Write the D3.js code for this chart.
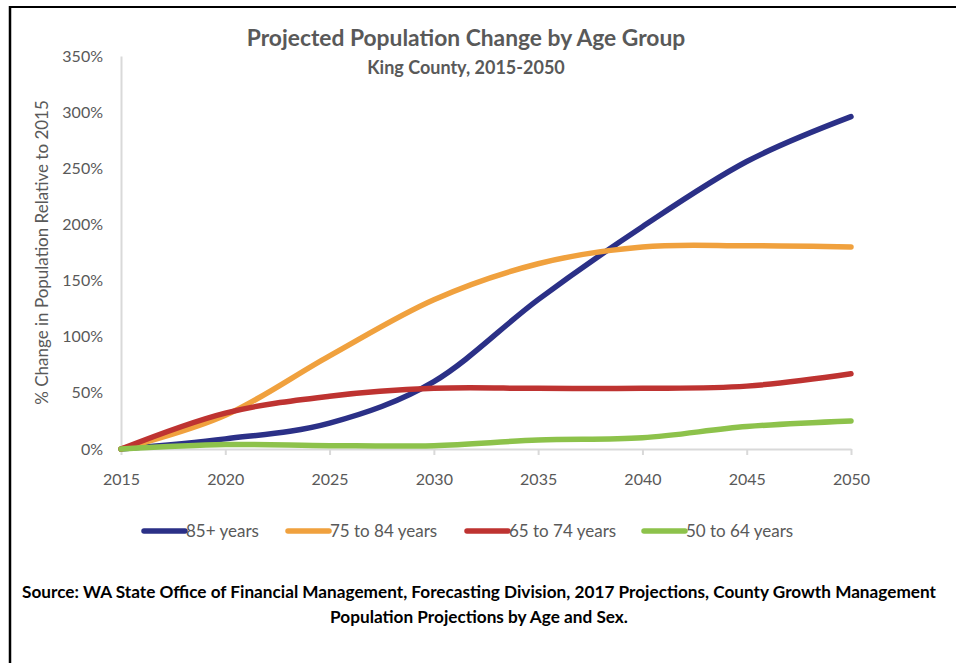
<!DOCTYPE html>
<html>
<head>
<meta charset="utf-8">
<script src="https://cdn.jsdelivr.net/npm/d3@7/dist/d3.min.js"></script>
<style>
  html, body { margin: 0; padding: 0; background: #fff; }
  svg { display: block; font-family: Lato, "Open Sans", sans-serif; }
</style>
</head>
<body>
<svg id="chart" width="956" height="663"></svg>
<script>
// Projection years and percent change relative to 2015, per age group
const years = [2015, 2020, 2025, 2030, 2035, 2040, 2045, 2050];
const age85plus = [0, 9, 23, 60, 133, 198, 256, 296];
const age75to84 = [0, 30, 83, 133, 165, 180, 181, 180];
const age65to74 = [0, 32, 47, 54, 54, 54, 56, 67];
const age50to64 = [0, 4, 3, 3, 8, 10, 20, 25];
const seriesNames = ["85+ years", "75 to 84 years", "65 to 74 years", "50 to 64 years"];
const seriesColors = ["#2B3087", "#F0A13E", "#BE3331", "#8DC24B"];
const yTicks = [0, 50, 100, 150, 200, 250, 300, 350];

const seriesValues = [age85plus, age75to84, age65to74, age50to64];

const svg = d3.select("#chart");
const grey = "#595959";

// Outer frame (top and left edges)
svg.append("line").attr("x1", 10).attr("y1", 7).attr("x2", 956).attr("y2", 7)
  .attr("stroke", "#000").attr("stroke-width", 2);
svg.append("line").attr("x1", 10).attr("y1", 6).attr("x2", 10).attr("y2", 663)
  .attr("stroke", "#000").attr("stroke-width", 2.5);

const plot = { left: 121, right: 851, top: 56, bottom: 449 };

const x = d3.scaleLinear().domain([2015, 2050]).range([plot.left, plot.right]);
const y = d3.scaleLinear().domain([0, 350]).range([plot.bottom, plot.top]);

// Titles
svg.append("text").attr("x", 466).attr("y", 46).attr("text-anchor", "middle")
  .attr("font-size", 22.8).attr("font-weight", "bold").attr("fill", grey)
  .text("Projected Population Change by Age Group");
svg.append("text").attr("x", 466).attr("y", 74).attr("text-anchor", "middle")
  .attr("font-size", 18).attr("font-weight", "bold").attr("fill", grey)
  .text("King County, 2015-2050");

// Y axis: line plus labels, no tick marks
const yAxis = svg.append("g").attr("transform", `translate(${plot.left},0)`)
  .call(d3.axisLeft(y).tickValues(yTicks).tickSize(0).tickPadding(18)
    .tickFormat(d => d + "%"));
yAxis.select(".domain").attr("stroke", "#d9d9d9").attr("stroke-width", 2);
yAxis.selectAll("text").attr("font-size", 16).attr("fill", grey)
  .attr("font-family", "Lato, 'Open Sans', sans-serif");

// X axis with downward ticks
const xAxis = svg.append("g").attr("transform", `translate(0,${plot.bottom})`)
  .call(d3.axisBottom(x).tickValues(years).tickSize(6).tickSizeOuter(0).tickPadding(19)
    .tickFormat(d3.format("d")));
xAxis.select(".domain").attr("stroke", "#d9d9d9").attr("stroke-width", 2);
xAxis.selectAll(".tick line").attr("stroke", "#d9d9d9").attr("stroke-width", 2);
xAxis.selectAll("text").attr("font-size", 16).attr("fill", grey)
  .attr("font-family", "Lato, 'Open Sans', sans-serif");

// Y axis title
svg.append("text")
  .attr("transform", `translate(48,${(plot.top + plot.bottom) / 2}) rotate(-90)`)
  .attr("text-anchor", "middle").attr("font-size", 17).attr("fill", grey)
  .text("% Change in Population Relative to 2015");

// Smoothed series lines
const line = d3.line()
  .x((d, i) => x(years[i]))
  .y(d => y(d))
  .curve(d3.curveCardinal.tension(0));

svg.append("g").selectAll("path").data(seriesValues).join("path")
  .attr("d", d => line(d))
  .attr("fill", "none")
  .attr("stroke", (d, i) => seriesColors[i])
  .attr("stroke-width", 5.5)
  .attr("stroke-linecap", "round")
  .attr("stroke-linejoin", "round");

// Legend
const legendX = [144, 288, 467, 644];
const legend = svg.append("g").selectAll("g").data(seriesNames).join("g")
  .attr("transform", (d, i) => `translate(${legendX[i]},531)`);
legend.append("line").attr("x1", 0).attr("x2", 41).attr("y1", 0).attr("y2", 0)
  .attr("stroke", (d, i) => seriesColors[i]).attr("stroke-width", 5.5)
  .attr("stroke-linecap", "round");
legend.append("text").attr("x", 42).attr("y", 6).attr("font-size", 17)
  .attr("fill", grey).text(d => d);

// Source note
const source = svg.append("g").attr("font-size", 17.2).attr("font-weight", "bold")
  .attr("fill", "#000").attr("text-anchor", "middle");
source.append("text").attr("x", 479).attr("y", 598)
  .text("Source: WA State Office of Financial Management, Forecasting Division, 2017 Projections, County Growth Management");
source.append("text").attr("x", 479).attr("y", 623)
  .text("Population Projections by Age and Sex.");
</script>
</body>
</html>
